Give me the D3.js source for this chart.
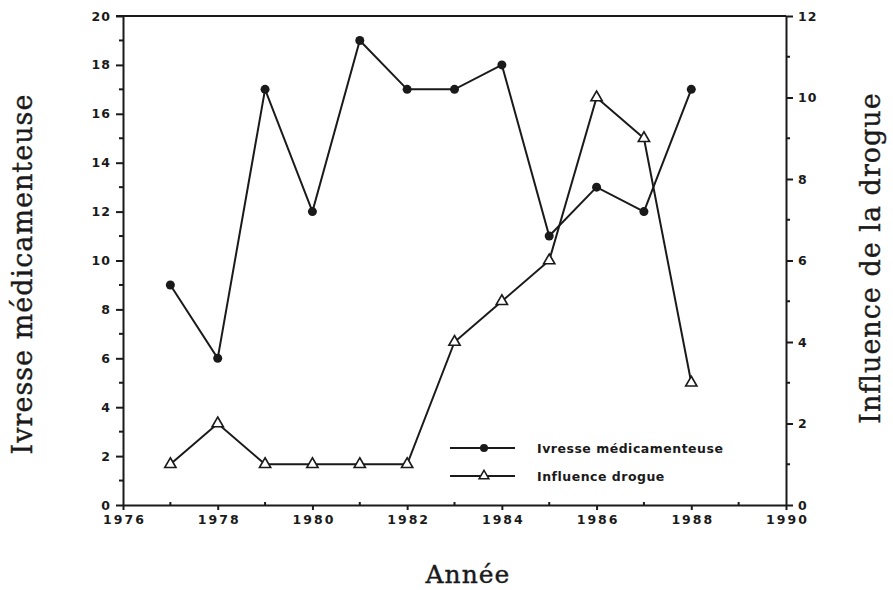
<!DOCTYPE html>
<html><head><meta charset="utf-8">
<script src="https://cdn.jsdelivr.net/npm/d3@7"></script>
<style>body{margin:0;background:#fff}svg{display:block}</style>
</head><body>
<script>
const years = [1977,1978,1979,1980,1981,1982,1983,1984,1985,1986,1987,1988];
const ivresse = [9,6,17,12,19,17,17,18,11,13,12,17];
const influence = [1,2,1,1,1,1,4,5,6,10,9,3];
const xTicks = [1976,1978,1980,1982,1984,1986,1988,1990];
const yLeftTicks = [0,2,4,6,8,10,12,14,16,18,20];
const yRightTicks = [0,2,4,6,8,10,12];
const seriesNames = ["Ivresse médicamenteuse","Influence drogue"];

const W=893,H=590;
const svg=d3.select("body").append("svg").attr("width",W).attr("height",H);
const L=123,R=786,T=16,B=505;
const x=d3.scaleLinear().domain([1976,1990]).range([L,R]);
const yl=d3.scaleLinear().domain([0,20]).range([B,T]);
const yr=d3.scaleLinear().domain([0,12]).range([B,T]);
const ink="#1a1a1a";
const tickFont="bold 12.5px 'DejaVu Sans', sans-serif";

svg.append("line").attr("x1",L-7).attr("x2",R).attr("y1",T).attr("y2",T).attr("stroke",ink).attr("stroke-width",2);

function styleAxis(g,ls){
  g.select(".domain").attr("stroke",ink).attr("stroke-width",2);
  g.selectAll(".tick line").attr("stroke",ink).attr("stroke-width",2);
  g.selectAll(".tick text").attr("fill",ink).style("font",tickFont).style("letter-spacing",ls);
}
const gx=svg.append("g").attr("transform",`translate(0,${B})`)
  .call(d3.axisBottom(x).tickValues(xTicks).tickFormat(d3.format("d")).tickSize(5).tickSizeOuter(0).tickPadding(5));
styleAxis(gx,"2px");
gx.selectAll(".tick text").attr("dx","1px");
svg.append("g").selectAll("line").data(d3.range(1977,1990,2)).join("line")
  .attr("x1",d=>x(d)).attr("x2",d=>x(d)).attr("y1",B).attr("y2",B-3).attr("stroke",ink).attr("stroke-width",2);

const gl=svg.append("g").attr("transform",`translate(${L},0)`)
  .call(d3.axisLeft(yl).tickValues(yLeftTicks).tickSize(7).tickSizeOuter(0).tickPadding(5));
styleAxis(gl,"1px");
svg.append("g").selectAll("line").data(d3.range(1,20,2)).join("line")
  .attr("x1",L).attr("x2",L-4).attr("y1",d=>yl(d)).attr("y2",d=>yl(d)).attr("stroke",ink).attr("stroke-width",2);

const gr=svg.append("g").attr("transform",`translate(${R},0)`)
  .call(d3.axisRight(yr).tickValues(yRightTicks).tickSize(7).tickSizeOuter(0).tickPadding(5));
styleAxis(gr,"1px");
svg.append("g").selectAll("line").data(d3.range(1,12,2)).join("line")
  .attr("x1",R).attr("x2",R+4).attr("y1",d=>yr(d)).attr("y2",d=>yr(d)).attr("stroke",ink).attr("stroke-width",2);

const d1=years.map((y,i)=>[y,ivresse[i]]);
const d2=years.map((y,i)=>[y,influence[i]]);
svg.append("path").datum(d1).attr("fill","none").attr("stroke",ink).attr("stroke-width",2)
  .attr("d",d3.line().x(d=>x(d[0])).y(d=>yl(d[1])));
svg.append("path").datum(d2).attr("fill","none").attr("stroke",ink).attr("stroke-width",2)
  .attr("d",d3.line().x(d=>x(d[0])).y(d=>yr(d[1])));
svg.append("g").selectAll("circle").data(d1).join("circle")
  .attr("cx",d=>x(d[0])).attr("cy",d=>yl(d[1])).attr("r",4.5).attr("fill",ink);
const tri=d3.symbol().type(d3.symbolTriangle).size(55);
svg.append("g").selectAll("path").data(d2).join("path")
  .attr("d",tri).attr("transform",d=>`translate(${x(d[0])},${yr(d[1])})`)
  .attr("fill","#fff").attr("stroke",ink).attr("stroke-width",1.6);

const lg=svg.append("g");
[[448,"circle"],[476,"tri"]].forEach(([yy,t],i)=>{
  lg.append("line").attr("x1",450).attr("x2",515).attr("y1",yy).attr("y2",yy).attr("stroke",ink).attr("stroke-width",2.2);
  if(t==="circle") lg.append("circle").attr("cx",484).attr("cy",yy).attr("r",4).attr("fill",ink);
  else lg.append("path").attr("d",d3.symbol().type(d3.symbolTriangle).size(42)).attr("transform",`translate(484,${yy})`).attr("fill","#fff").attr("stroke",ink).attr("stroke-width",1.5);
  lg.append("text").attr("x",537).attr("y",yy+4.5).text(seriesNames[i]).attr("fill",ink)
    .style("font","bold 12.5px 'DejaVu Sans', sans-serif").style("letter-spacing","0.5px");
});

function title(sel){ return sel.attr("text-anchor","middle").attr("fill","#1a1a1a").attr("stroke","#1a1a1a").attr("stroke-width",0.4)
  .style("font","27px 'DejaVu Serif', serif").style("letter-spacing","1px"); }
title(svg.append("text").attr("transform","translate(32,274) rotate(-90)")).text("Ivresse médicamenteuse");
title(svg.append("text").attr("transform","translate(880,258) rotate(-90)")).text("Influence de la drogue");
title(svg.append("text").attr("x",468).attr("y",583)).style("font","25px 'DejaVu Serif', serif").text("Année");
</script>
</body></html>
